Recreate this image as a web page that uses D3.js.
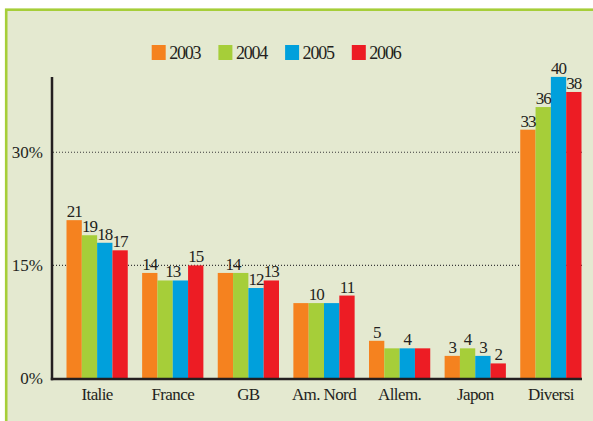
<!DOCTYPE html>
<html>
<head>
<meta charset="utf-8">
<script src="https://cdn.jsdelivr.net/npm/d3@7/dist/d3.min.js"></script>
<style>
  html, body { margin: 0; padding: 0; background: #ffffff; }
  svg { display: block; }
  svg text { font-family: 'Liberation Serif', 'DejaVu Serif', 'Times New Roman', serif !important; fill: #231f20; }
</style>
</head>
<body>
<svg id="chart" width="593" height="421"></svg>
<script>
const categories = ["Italie", "France", "GB", "Am. Nord", "Allem.", "Japon", "Diversi"];
const years = ["2003", "2004", "2005", "2006"];
const values2003 = [21, 14, 14, 10, 5, 3, 33];
const values2004 = [19, 13, 14, 10, 4, 4, 36];
const values2005 = [18, 13, 12, 10, 4, 3, 40];
const values2006 = [17, 15, 13, 11, 4, 2, 38];
const yTicks = [0, 15, 30];
const colors = ["#f5821f", "#a6ce39", "#00a0dc", "#ed1c24"];

const series = [values2003, values2004, values2005, values2006];
const FONT = "'Liberation Serif', 'DejaVu Serif', serif";

const svg = d3.select("#chart");

// frame
svg.append("rect").attr("x", 6.2).attr("y", 9.7).attr("width", 600).attr("height", 420)
  .attr("fill", "#e4e9d0").attr("stroke", "#a6ce39").attr("stroke-width", 2.6);

const y = d3.scaleLinear().domain([0, 40]).range([378.5, 76.9]);
const x = d3.scaleBand().domain(categories).range([66.5, 581.5]).paddingInner(0.19).paddingOuter(0);
const xs = d3.scaleBand().domain(years).range([0, x.bandwidth()]);
const color = d3.scaleOrdinal().domain(years).range(colors);

// gridlines
svg.append("g").selectAll("line").data(yTicks.filter(d => d > 0)).join("line")
  .attr("x1", 53).attr("x2", 582)
  .attr("y1", d => y(d)).attr("y2", d => y(d))
  .attr("stroke", "#3a3a3a").attr("stroke-width", 1.1).attr("stroke-dasharray", "1,2");

// bars
const groups = svg.append("g").selectAll("g").data(categories).join("g")
  .attr("transform", d => `translate(${x(d)},0)`);
groups.selectAll("rect").data((c, i) => years.map((yr, j) => ({ yr, v: series[j][i] }))).join("rect")
  .attr("x", d => xs(d.yr)).attr("width", xs.bandwidth())
  .attr("y", d => y(d.v)).attr("height", d => y(0) - y(d.v))
  .attr("fill", d => color(d.yr));

// value labels (runs of equal adjacent values share a label)
groups.each(function(c, i) {
  const vals = years.map((yr, j) => series[j][i]);
  const runs = [];
  vals.forEach((v, j) => {
    const last = runs[runs.length - 1];
    if (last && last.v === v) last.end = j; else runs.push({ v, start: j, end: j });
  });
  d3.select(this).selectAll("text.val").data(runs).join("text").attr("class", "val")
    .attr("x", r => (xs(years[r.start]) + xs(years[r.end]) + xs.bandwidth()) / 2)
    .attr("y", r => y(r.v) - 3)
    .attr("text-anchor", "middle")
    .style("font-family", FONT).style("font-size", "17px").style("letter-spacing", "-1px")
    .text(r => r.v);
});

// y axis labels
const yAxis = svg.append("g").attr("transform", "translate(52,0)")
  .call(d3.axisLeft(y).tickValues(yTicks).tickFormat(d => d + "%").tickSize(0).tickPadding(9));
yAxis.attr("font-family", null).attr("font-size", null);
yAxis.select(".domain").remove();
yAxis.selectAll("text").style("font-family", FONT).style("font-size", "17px").style("fill", "#231f20");

// x axis labels
const xAxis = svg.append("g").attr("transform", `translate(0,${y(0)})`)
  .call(d3.axisBottom(x).tickSize(0).tickPadding(9));
xAxis.attr("font-family", null).attr("font-size", null);
xAxis.select(".domain").remove();
xAxis.selectAll("text").style("font-family", FONT).style("font-size", "17px")
  .style("fill", "#231f20").style("letter-spacing", "-0.6px");

// axis lines
svg.append("line").attr("x1", 52).attr("x2", 52).attr("y1", 77).attr("y2", 380.2)
  .attr("stroke", "#231f20").attr("stroke-width", 2.5);
svg.append("line").attr("x1", 50.8).attr("x2", 582).attr("y1", 379).attr("y2", 379)
  .attr("stroke", "#231f20").attr("stroke-width", 2.5);

// legend
const legend = svg.append("g").selectAll("g").data(years).join("g")
  .attr("transform", (d, i) => `translate(${151.7 + i * 66.7},45)`);
legend.append("rect").attr("width", 14).attr("height", 15).attr("fill", d => color(d));
legend.append("text").attr("x", 17.5).attr("y", 13.5)
  .style("font-family", FONT).style("font-size", "18px").style("letter-spacing", "-1.2px")
  .text(d => d);
</script>
</body>
</html>
